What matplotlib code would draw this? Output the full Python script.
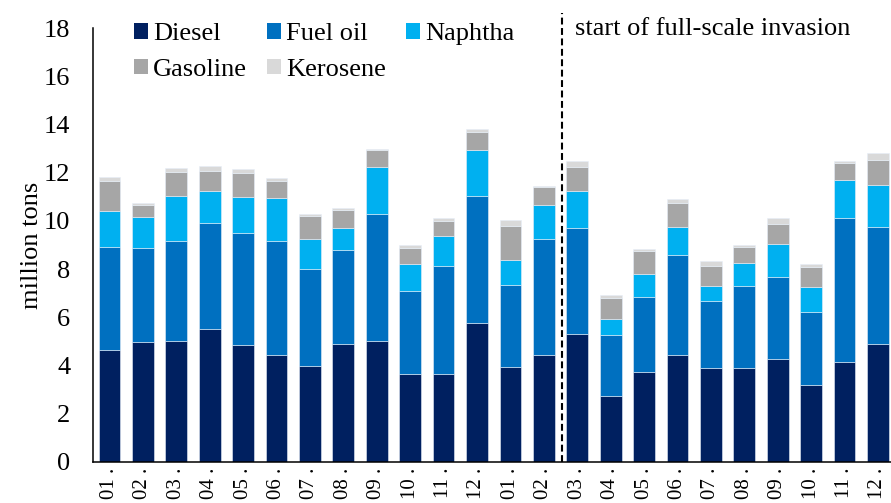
import matplotlib
matplotlib.use("Agg")
import matplotlib.pyplot as plt
import numpy as np

months = ["01", "02", "03", "04", "05", "06", "07", "08", "09", "10", "11", "12",
          "01", "02", "03", "04", "05", "06", "07", "08", "09", "10", "11", "12"]
tick_labels = [m + " .  ." for m in months]

diesel = [4.65, 4.97, 5.03, 5.51, 4.85, 4.43, 3.97, 4.88, 5.01, 3.63, 3.63, 5.74,
          3.92, 4.43, 5.31, 2.74, 3.72, 4.43, 3.89, 3.89, 4.26, 3.18, 4.14, 4.89]
fuel_oil = [4.28, 3.91, 4.15, 4.42, 4.66, 4.75, 4.02, 3.93, 5.27, 3.47, 4.51, 5.29,
            3.41, 4.81, 4.38, 2.51, 3.13, 4.17, 2.78, 3.39, 3.43, 3.04, 6.00, 4.87]
naphtha = [1.49, 1.28, 1.87, 1.33, 1.50, 1.79, 1.26, 0.91, 1.94, 1.12, 1.25, 1.90,
           1.05, 1.43, 1.55, 0.68, 0.93, 1.16, 0.61, 0.98, 1.35, 1.03, 1.58, 1.75]
gasoline = [1.22, 0.49, 1.00, 0.81, 0.99, 0.67, 0.97, 0.72, 0.71, 0.67, 0.62, 0.75,
            1.41, 0.72, 1.02, 0.88, 0.98, 1.00, 0.86, 0.67, 0.82, 0.83, 0.67, 1.04]
kerosene = [0.19, 0.11, 0.16, 0.22, 0.17, 0.15, 0.07, 0.10, 0.07, 0.11, 0.12, 0.15,
            0.25, 0.08, 0.21, 0.11, 0.07, 0.17, 0.18, 0.07, 0.25, 0.13, 0.11, 0.27]

series = [("Diesel", diesel, "#002060"),
          ("Fuel oil", fuel_oil, "#0070C0"),
          ("Naphtha", naphtha, "#00B0F0"),
          ("Gasoline", gasoline, "#A6A6A6"),
          ("Kerosene", kerosene, "#D9D9D9")]

invasion_x = 13.53
annotation = "start of full-scale invasion"

plt.rcParams['font.family'] = ['Liberation Serif', 'DejaVu Serif']

W, H = 891, 503
fig = plt.figure(figsize=(W / 100, H / 100), dpi=100)
ax = fig.add_axes([92.7 / W, 1 - 461.7 / H, (W - 92.7) / W, (461.7 - 28.3) / H])

x = np.arange(len(months))
bottom = np.zeros(len(months))
handles = {}
for name, vals, col in series:
    v = np.array(vals)
    b = ax.bar(x, v, 0.65, bottom=bottom, color=col, label=name,
               edgecolor="#e6eef8", linewidth=0.4, zorder=2)
    handles[name] = b
    bottom += v

ax.set_ylim(0, 18)
ax.set_xlim(-0.5, 23.39)
ax.set_yticks(np.arange(0, 19, 2))
ax.set_xticks(x)
ax.set_xticklabels(tick_labels, rotation=90, fontsize=15)
ax.tick_params(axis='x', length=0, pad=-7)
ax.tick_params(axis='y', length=0, pad=16, labelsize=19)
for s in ["top", "right"]:
    ax.spines[s].set_visible(False)
for s in ["left", "bottom"]:
    ax.spines[s].set_linewidth(1.1)
    ax.spines[s].set_color("black")
ax.set_ylabel("million tons", fontsize=19, labelpad=1)

ax.plot([invasion_x, invasion_x], [0, 18.62], color="black", lw=1.5,
        ls=(0, (3.3, 1.7)), clip_on=False, zorder=3)
fig.text(575 / W, 1 - 35 / H, annotation, fontsize=19, ha="left", va="baseline")

order = ["Diesel", "Gasoline", "Fuel oil", "Kerosene", "Naphtha"]
leg = fig.legend([handles[n] for n in order], order,
                 loc="upper left", bbox_to_anchor=(134 / W, 1 - 23 / H), ncol=3,
                 frameon=False, fontsize=19, handlelength=0.53, handleheight=0.53,
                 handletextpad=0.2, columnspacing=0.75, labelspacing=0.52,
                 borderpad=0, borderaxespad=0)
for h in leg.legend_handles:
    h.set_edgecolor("none")

fig.savefig("out.png", dpi=100)
